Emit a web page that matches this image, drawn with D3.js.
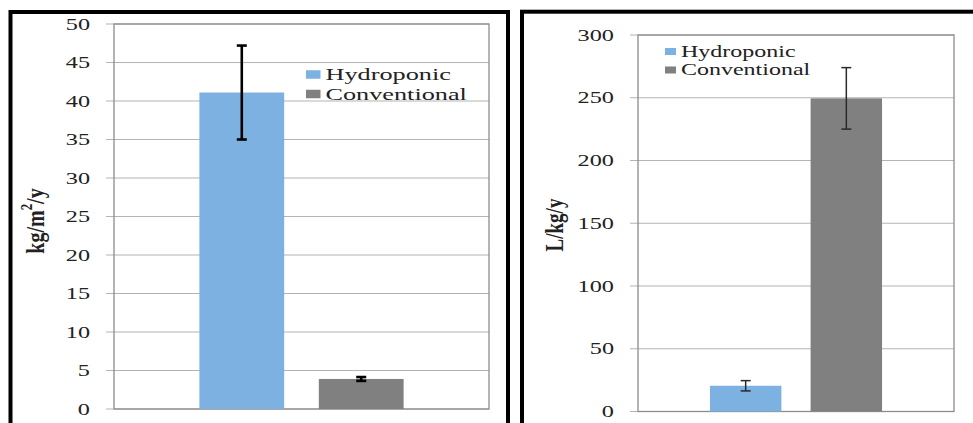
<!DOCTYPE html>
<html>
<head>
<meta charset="utf-8">
<script src="https://cdn.jsdelivr.net/npm/d3@7"></script>
<style>
  body { margin: 0; background: #fff; }
  text { font-family: "Liberation Serif", "Times New Roman", serif; fill: #222; }
</style>
</head>
<body>
<div id="chart"></div>
<script>
// Series shown in both panels
const series = ["Hydroponic", "Conventional"];
const seriesColors = ["#7cb1e2", "#808080"];

// Left panel: yield, kg/m2/y (mean and error)
const yieldValues = [41.1, 3.9];
const yieldErrors = [6.1, 0.25];
const yieldMax = 50;

// Right panel: water use, L/kg/y (mean and error)
const waterValues = [20.5, 249.5];
const waterErrors = [4.1, 24.5];
const waterMax = 300;

const width = 973;
const height = 423;

const svg = d3.select("#chart")
    .append("svg")
    .attr("width", width)
    .attr("height", height);

// the picture is stretched sideways, so text gets a horizontal scale
const sx = 1.47;

function drawPanel(opts) {
  const g = svg.append("g");

  // thick outer frame
  g.append("rect")
      .attr("x", opts.frame[0])
      .attr("y", opts.frame[1])
      .attr("width", opts.frame[2])
      .attr("height", opts.frame[3])
      .attr("fill", "none")
      .attr("stroke", "#000")
      .attr("stroke-width", 4);

  const p = opts.plot;  // [left, top, right, bottom]

  const y = d3.scaleLinear()
      .domain([0, opts.max])
      .range([p[3], p[1]]);

  const x = d3.scaleBand()
      .domain(series)
      .range([p[0], p[2]])
      .paddingInner(0.29)
      .paddingOuter(0.715);

  const ticks = y.ticks(opts.nTicks);

  // gridlines + tick marks
  g.selectAll(".grid")
    .data(ticks)
    .join("line")
      .attr("x1", p[0] - 8)
      .attr("x2", p[2])
      .attr("y1", d => y(d))
      .attr("y2", d => y(d))
      .attr("stroke", "#b4b4b4")
      .attr("stroke-width", 1.2);

  // plot box
  g.append("rect")
      .attr("x", p[0])
      .attr("y", p[1])
      .attr("width", p[2] - p[0])
      .attr("height", p[3] - p[1])
      .attr("fill", "none")
      .attr("stroke", "#8c8c8c")
      .attr("stroke-width", 1.3);

  // tick labels
  g.selectAll(".tick-label")
    .data(ticks)
    .join("text")
      .attr("transform", d => `translate(${p[0] - 24},${y(d)}) scale(${sx},1)`)
      .attr("text-anchor", "end")
      .attr("dominant-baseline", "central")
      .attr("font-size", 16.5)
      .text(d => d);

  // bars
  g.selectAll(".bar")
    .data(series)
    .join("rect")
      .attr("x", d => x(d))
      .attr("y", (d, i) => y(opts.values[i]))
      .attr("width", x.bandwidth())
      .attr("height", (d, i) => y(0) - y(opts.values[i]))
      .attr("fill", (d, i) => seriesColors[i]);

  // error bars
  const eb = g.selectAll(".err")
    .data(series)
    .join("g")
      .attr("stroke", opts.errColor)
      .attr("stroke-width", opts.errWidth);
  eb.append("line")
      .attr("x1", d => x(d) + x.bandwidth() / 2)
      .attr("x2", d => x(d) + x.bandwidth() / 2)
      .attr("y1", (d, i) => y(opts.values[i] + opts.errors[i]))
      .attr("y2", (d, i) => y(opts.values[i] - opts.errors[i]));
  [1, -1].forEach(s => {
    eb.append("line")
        .attr("x1", d => x(d) + x.bandwidth() / 2 - 5)
        .attr("x2", d => x(d) + x.bandwidth() / 2 + 5)
        .attr("y1", (d, i) => y(opts.values[i] + s * opts.errors[i]))
        .attr("y2", (d, i) => y(opts.values[i] + s * opts.errors[i]));
  });

  // y axis title
  const title = g.append("text")
      .attr("transform", `translate(${opts.titlePos[0]},${opts.titlePos[1]}) scale(1.3,1) rotate(-90)`)
      .attr("text-anchor", "middle")
      .attr("dominant-baseline", "central")
      .attr("font-size", opts.titleSize)
      .attr("font-weight", opts.titleWeight);
  opts.title.forEach(part => {
    title.append("tspan")
        .attr("baseline-shift", part.sup ? "super" : null)
        .attr("font-size", part.sup ? 13 : null)
        .text(part.t);
  });

  // legend
  const L = opts.legend;  // {x, y, dy, w, h, fs}
  const leg = g.selectAll(".legend")
    .data(series)
    .join("g")
      .attr("transform", (d, i) => `translate(${L.x},${L.y + i * L.dy})`);
  leg.append("rect")
      .attr("x", 0)
      .attr("y", -L.h / 2)
      .attr("width", L.w)
      .attr("height", L.h)
      .attr("fill", (d, i) => seriesColors[i]);
  leg.append("text")
      .attr("transform", `translate(${L.w + 5},0) scale(1.5,1)`)
      .attr("dominant-baseline", "central")
      .attr("font-size", L.fs)
      .text(d => d);
}

drawPanel({
  frame: [10.5, 12, 497.5, 440],
  plot: [114, 24, 489, 409],
  max: yieldMax,
  nTicks: 10,
  values: yieldValues,
  errors: yieldErrors,
  errColor: "#000",
  errWidth: 2.6,
  title: [{t: "kg/m"}, {t: "2", sup: true}, {t: "/y"}],
  titleWeight: "bold",
  titleSize: 20,
  titlePos: [35, 221],
  legend: {x: 306, y: 74.5, dy: 19.5, w: 14.5, h: 8.5, fs: 17.5}
});

drawPanel({
  frame: [522, 11.7, 470, 440],
  plot: [638, 35, 954, 411.5],
  max: waterMax,
  nTicks: 6,
  values: waterValues,
  errors: waterErrors,
  errColor: "#2a2a2a",
  errWidth: 1.5,
  title: [{t: "L/kg/y"}],
  titleWeight: "bold",
  titleSize: 19,
  titlePos: [554, 225],
  legend: {x: 665, y: 51.5, dy: 18.5, w: 11, h: 7, fs: 16}
});
</script>
</body>
</html>
